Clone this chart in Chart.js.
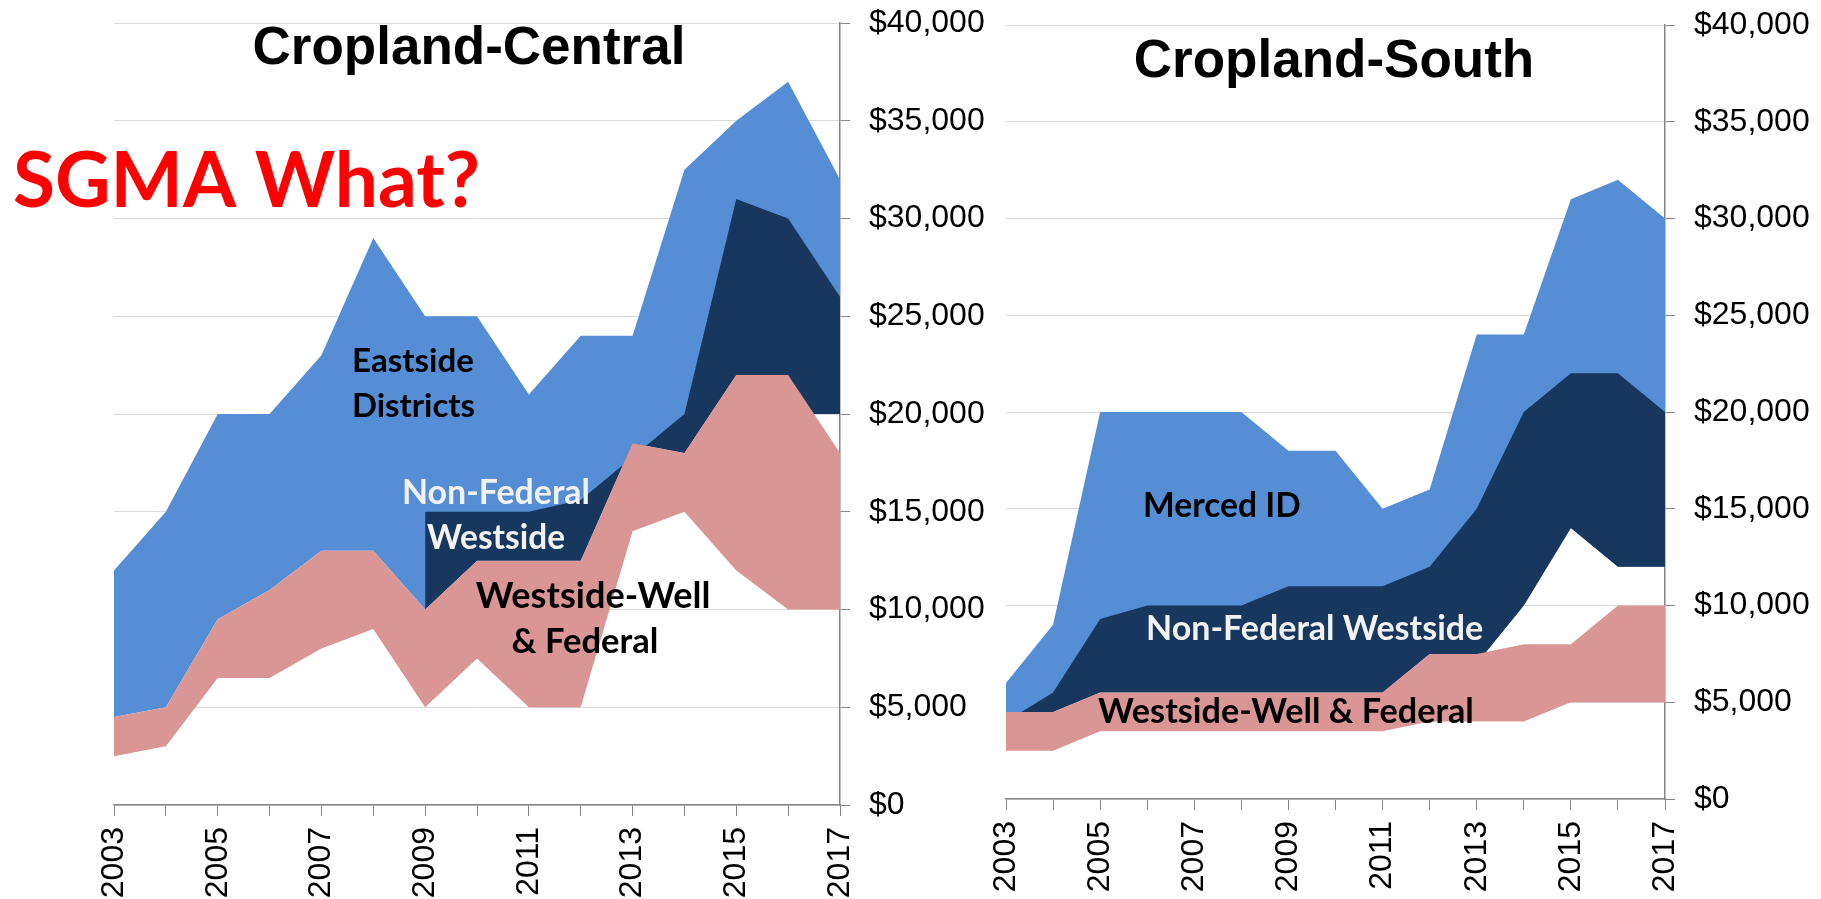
<!DOCTYPE html>
<html>
<head>
<meta charset="utf-8">
<title>Cropland - Central / South</title>
<script src="https://cdn.jsdelivr.net/npm/chart.js@4.4.1/dist/chart.umd.min.js"></script>
<style>
  html, body { margin: 0; padding: 0; background: #fff; }
  body { width: 1821px; height: 899px; position: relative; overflow: hidden; }
  canvas { position: absolute; top: 0; }
  #central { left: 0; }
  #south { left: 980px; }
</style>
</head>
<body>
<canvas id="central" width="1000" height="899"></canvas>
<canvas id="south" width="841" height="899"></canvas>
<script>
const years = ['2003', '2004', '2005', '2006', '2007', '2008', '2009', '2010',
               '2011', '2012', '2013', '2014', '2015', '2016', '2017'];

// Cropland-Central: low / high edge of each band ($)
const centralWellLow     = [2500, 3000, 6500, 6500, 8000, 9000, 5000, 7500, 5000, 5000, 14000, 15000, 12000, 10000, 10000];
const centralWellHigh    = [4500, 5000, 9500, 11000, 13000, 13000, 10000, 12500, 12500, 12500, 18500, 18000, 22000, 22000, 18000];
const centralNonFedLow   = [null, null, null, null, null, null, 10000, 12500, 12500, 12500, 18500, 18000, 22000, 20000, 20000];
const centralNonFedHigh  = [null, null, null, null, null, null, 15000, 15000, 15000, 15600, 17800, 20000, 31000, 30000, 26000];
const centralEastLow     = [4500, 5000, 9500, 11000, 13000, 13000, 10000, 12500, 12500, 12500, 18500, 18000, 22000, 20000, 20000];
const centralEastHigh    = [12000, 15000, 20000, 20000, 23000, 29000, 25000, 25000, 21000, 24000, 24000, 32500, 35000, 37000, 32000];

// Cropland-South
const southWellLow       = [2500, 2500, 3500, 3500, 3500, 3500, 3500, 3500, 3500, 4000, 4000, 4000, 5000, 5000, 5000];
const southWellHigh      = [4500, 4500, 5500, 5500, 5500, 5500, 5500, 5500, 5500, 7500, 7500, 8000, 8000, 10000, 10000];
const southNonFedLow     = [4500, 4500, 5500, 5500, 5500, 5500, 5500, 5500, 5500, 7500, 7000, 10000, 14000, 12000, 12000];
const southNonFedHigh    = [4000, 5500, 9300, 10000, 10000, 10000, 11000, 11000, 11000, 12000, 15000, 20000, 22000, 22000, 20000];
const southMercedLow     = [4500, 4500, 5500, 5500, 5500, 5500, 5500, 5500, 5500, 7500, 7000, 10000, 14000, 12000, 12000];
const southMercedHigh    = [6000, 9000, 20000, 20000, 20000, 20000, 18000, 18000, 15000, 16000, 24000, 24000, 31000, 32000, 30000];

const yTicks = [0, 5000, 10000, 15000, 20000, 25000, 30000, 35000, 40000];

const BLUE = '#558ED5';
const NAVY = '#17375E';
const PINK = '#D99694';
const ARIAL = '"Liberation Sans", Arial, sans-serif';
const CALIBRI = 'Lato, "Open Sans", sans-serif';

// scale a bold label so it spans the same width as in the original slide
function fitFont(ctx, text, width) {
    ctx.font = `bold 100px ${CALIBRI}`;
    const size = 100 * width / ctx.measureText(text).width;
    return `bold ${size.toFixed(1)}px ${CALIBRI}`;
}

const slideText = {
    id: 'slideText',
    afterDraw(chart, args, opts) {
        const ctx = chart.ctx;
        ctx.save();
        ctx.textBaseline = 'alphabetic';
        opts.items.forEach(t => {
            ctx.font = t.font || fitFont(ctx, t.text, t.w);
            ctx.fillStyle = t.color || '#000';
            ctx.textAlign = t.align || 'left';
            ctx.fillText(t.text, t.x, t.y);
        });
        ctx.restore();
    }
};

function band(data, color, order) {
    return { data, backgroundColor: color, fill: '+1', borderWidth: 0, pointRadius: 0, order };
}
function edge(data) {
    return { data, fill: false, borderWidth: 0, pointRadius: 0, order: 0 };
}

function makeChart(id, b, texts, pad, yWidth, xHeight) {
    return new Chart(document.getElementById(id), {
        type: 'line',
        data: {
            labels: years,
            datasets: [
                band(b.topHigh, BLUE, 3), edge(b.topLow),
                band(b.midHigh, NAVY, 2), edge(b.midLow),
                band(b.lowHigh, PINK, 1), edge(b.lowLow)
            ]
        },
        options: {
            responsive: false,
            animation: false,
            events: [],
            layout: { padding: pad },
            elements: { line: { tension: 0 } },
            plugins: {
                legend: { display: false },
                tooltip: { enabled: false },
                slideText: { items: texts }
            },
            scales: {
                x: {
                    ticks: {
                        autoSkip: false, minRotation: 90, maxRotation: 90, padding: 11,
                        color: '#000', font: { family: ARIAL, size: 32 },
                        callback: (v, i) => i % 2 === 0 ? years[i] : ''
                    },
                    grid: { drawOnChartArea: false, tickLength: 11, tickColor: '#868686' },
                    border: { color: '#868686', width: 1.5 },
                    // fixed box; the outer labels may hang over the plot edges
                    afterFit: s => { s.height = xHeight; s.paddingLeft = 0; s.paddingRight = 0; }
                },
                y: {
                    position: 'right',
                    min: 0, max: 40000,
                    afterBuildTicks: s => { s.ticks = yTicks.map(v => ({ value: v })); },
                    ticks: {
                        padding: 19, color: '#000', font: { family: ARIAL, size: 32 },
                        callback: v => '$' + v.toLocaleString('en-US')
                    },
                    grid: { color: '#D9D9D9', lineWidth: 1, tickLength: 10, tickColor: '#868686' },
                    border: { color: '#868686', width: 1.5 },
                    afterFit: s => { s.width = yWidth; s.paddingTop = 0; s.paddingBottom = 0; }
                }
            }
        },
        plugins: [slideText]
    });
}

makeChart('central', {
    topLow: centralEastLow, topHigh: centralEastHigh,
    midLow: centralNonFedLow, midHigh: centralNonFedHigh,
    lowLow: centralWellLow, lowHigh: centralWellHigh
}, [
    { text: 'Cropland-Central', x: 469, y: 64, align: 'center', font: `bold 53px ${ARIAL}` },
    { text: 'SGMA What?', x: 13, y: 207, w: 467, color: '#FF0000' },
    { text: 'Eastside', x: 352, y: 372, w: 122 },
    { text: 'Districts', x: 352, y: 417, w: 123 },
    { text: 'Non-Federal', x: 496, y: 504, w: 188, align: 'center', color: '#F2F2F2' },
    { text: 'Westside', x: 496, y: 549, w: 138, align: 'center', color: '#F2F2F2' },
    { text: 'Westside-Well', x: 593, y: 608, w: 235, align: 'center' },
    { text: '& Federal', x: 585, y: 653, w: 147, align: 'center' }
], { left: 114, top: 23, right: 0, bottom: 0 }, 160, 94);

makeChart('south', {
    topLow: southMercedLow, topHigh: southMercedHigh,
    midLow: southNonFedLow, midHigh: southNonFedHigh,
    lowLow: southWellLow, lowHigh: southWellHigh
}, [
    { text: 'Cropland-South', x: 354, y: 77, align: 'center', font: `bold 53px ${ARIAL}` },
    { text: 'Merced ID', x: 163, y: 517, w: 158 },
    { text: 'Non-Federal Westside', x: 166, y: 640, w: 337, color: '#F2F2F2' },
    { text: 'Westside-Well & Federal', x: 118, y: 723, w: 376 }
], { left: 26, top: 25, right: 0, bottom: 0 }, 156, 100);
</script>
</body>
</html>
